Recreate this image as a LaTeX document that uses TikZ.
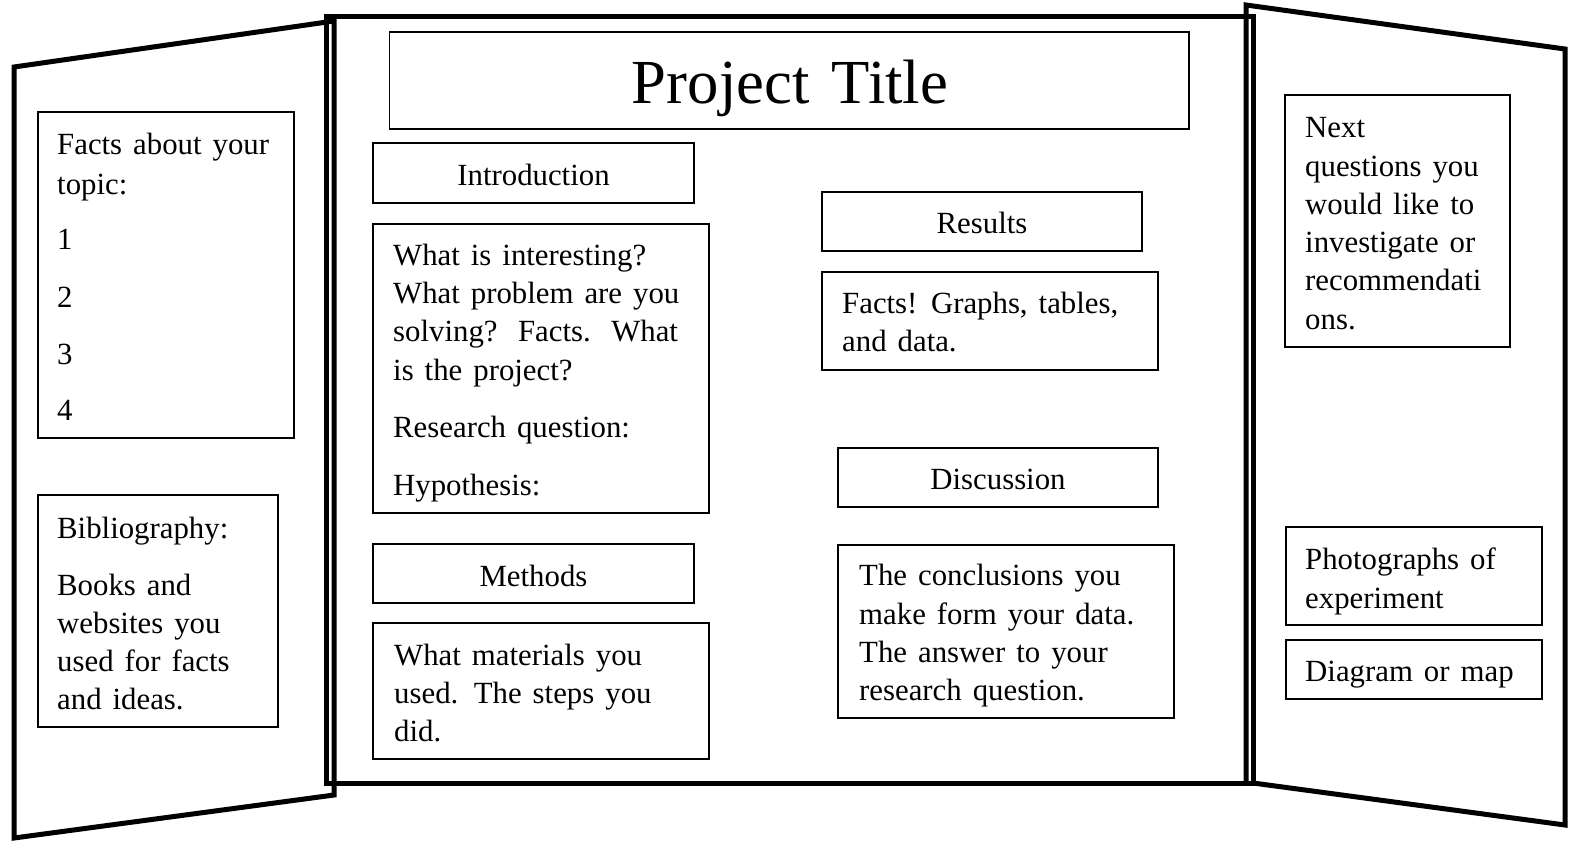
\documentclass[tikz,border=0pt]{standalone}
\usepackage{fontspec}
\setmainfont{Liberation Serif}[WordSpace=1.43]
\newcommand{\mystrut}{\rule{0pt}{25pt}}
\begin{document}
\begin{tikzpicture}[x=1pt,y=-1pt,
  board/.style={line width=5pt, line join=miter},
  box/.style={line width=1.6pt},
  body/.style={anchor=north west, inner sep=0pt, align=left, font=\fontsize{30.8}{38.3}\selectfont},
  hdr/.style={anchor=base, inner sep=0pt, font=\fontsize{30.8}{38.3}\selectfont}]
\useasboundingbox (0,0) rectangle (1573,844);
% board panels
\draw[board] (334,21) -- (14,67) -- (14,838) -- (334,795) -- cycle;
\draw[board] (1246,783) -- (1246,5) -- (1565,49) -- (1565,825) -- (1253,783);
\draw[board] (326,16) rectangle (1253,783);
% boxes
\draw[box] (389.5,32) rectangle (1189,129);
\draw[box] (373,143) rectangle (694,203);
\draw[box] (373,224) rectangle (709,513);
\draw[box] (373,544) rectangle (694,603);
\draw[box] (373,623) rectangle (709,759);
\draw[box] (822,192) rectangle (1142,251);
\draw[box] (822,272) rectangle (1158,370);
\draw[box] (838,448) rectangle (1158,507);
\draw[box] (838,545) rectangle (1174,718);
\draw[box] (38,112) rectangle (294,438);
\draw[box] (38,495) rectangle (278,727);
\draw[box] (1285,95) rectangle (1510,347);
\draw[box] (1286,527) rectangle (1542,625);
\draw[box] (1286,640) rectangle (1542,699);
% texts
\node[anchor=base, inner sep=0pt, font=\fontsize{62.7}{75}\selectfont] (title) at (790,103) {Project Title};
\node[hdr] (introhdr) at (533.5,185.5) {Introduction};
\node[hdr] (methhdr) at (533.5,586) {Methods};
\node[hdr] (reshdr) at (982,233) {Results};
\node[hdr] (dischdr) at (998,489.5) {Discussion};
\node[body] (facts) at (57,129) {\mystrut Facts about your\\[2pt]topic:\\[17pt]1\\[19pt]2\\[19pt]3\\[18pt]4};
\node[body] (bib) at (57,513.5) {\mystrut Bibliography:\\[18pt]Books and\\websites you\\used for facts\\and ideas.};
\node[body] (introtxt) at (393,240) {\mystrut What is interesting?\\What problem are you\\solving?\hspace{20.5pt}Facts.\hspace{20.5pt}What\\is the project?\\[19pt]Research question:\\[19.7pt]Hypothesis:};
\node[body] (methtxt) at (394,640) {\mystrut What materials you\\used.\hspace{15.5pt}The steps you\\did.};
\node[body] (restxt) at (842,288) {\mystrut Facts! Graphs, tables,\\and data.};
\node[body] (disctxt) at (859,560.5) {\mystrut The conclusions you\\make form your data.\\The answer to your\\research question.};
\node[body] (nexttxt) at (1305,112.5) {\mystrut Next\\questions you\\would like to\\investigate or\\recommendati\\ons.};
\node[body] (photo) at (1305,544.5) {\mystrut Photographs of\\experiment};
\node[body] (diag) at (1305,656) {\mystrut Diagram or map};
\end{tikzpicture}
\end{document}
